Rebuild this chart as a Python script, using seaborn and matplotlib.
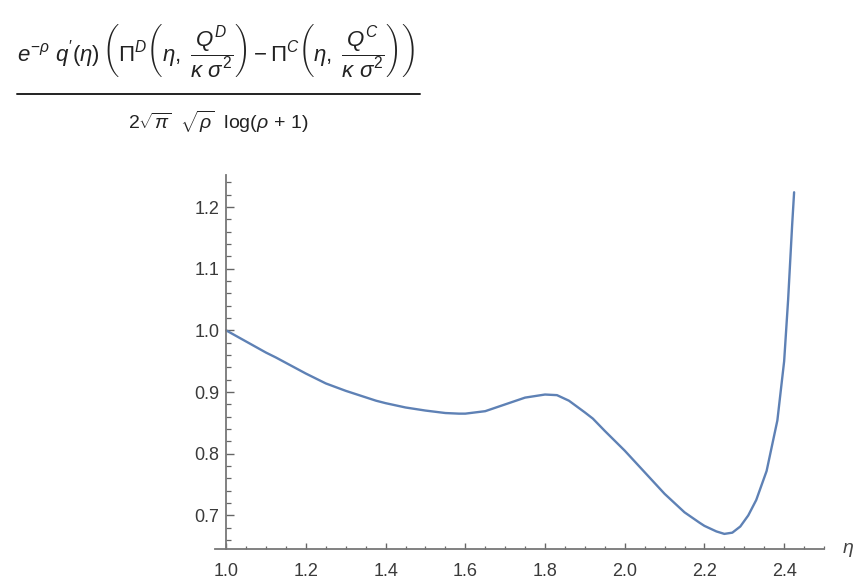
import matplotlib
matplotlib.use("Agg")
import matplotlib.pyplot as plt
from matplotlib.lines import Line2D
from matplotlib.ticker import MultipleLocator, FormatStrFormatter
import seaborn as sns
import pandas as pd

# Sampled curve: eta vs. normalized payoff difference
eta = [1.00, 1.05, 1.10, 1.125, 1.20, 1.25, 1.30, 1.376, 1.40, 1.45, 1.50,
       1.55, 1.584, 1.60, 1.65, 1.70, 1.75, 1.80, 1.83, 1.86, 1.90, 1.92,
       1.95, 2.00, 2.05, 2.10, 2.15, 2.188, 2.20, 2.23, 2.25, 2.27, 2.29,
       2.31, 2.33, 2.356, 2.383, 2.40, 2.41, 2.42, 2.425]
value = [1.000, 0.982, 0.964, 0.956, 0.930, 0.914, 0.902, 0.886, 0.882, 0.875, 0.870,
         0.866, 0.865, 0.865, 0.869, 0.880, 0.891, 0.896, 0.895, 0.886, 0.867, 0.857,
         0.837, 0.805, 0.770, 0.735, 0.705, 0.688, 0.683, 0.674, 0.670, 0.672, 0.682,
         0.700, 0.725, 0.772, 0.854, 0.950, 1.050, 1.170, 1.224]

x_ticks = [1.0, 1.2, 1.4, 1.6, 1.8, 2.0, 2.2, 2.4]
y_ticks = [0.7, 0.8, 0.9, 1.0, 1.1, 1.2]

df = pd.DataFrame({"eta": eta, "value": value})

sns.set_style("white")
plt.rcParams["font.family"] = ["Liberation Sans", "DejaVu Sans"]
plt.rcParams["mathtext.fontset"] = "custom"
plt.rcParams["mathtext.rm"] = "Liberation Sans"
plt.rcParams["mathtext.it"] = "Liberation Sans:italic"
plt.rcParams["mathtext.bf"] = "Liberation Sans:bold"

W, H = 855, 587
fig = plt.figure(figsize=(W / 100, H / 100), dpi=100)
ax = fig.add_axes([215 / W, 1 - 549 / H, (824 - 215) / W, (549 - 175) / H])

sns.lineplot(data=df, x="eta", y="value", ax=ax, color="#5e81b5",
             linewidth=1.7, sort=False, estimator=None)

ax.set_xlim(0.972, 2.5)
ax.set_ylim(0.6455, 1.252)
ax.set_xlabel("")
ax.set_ylabel("")

axis_col = "#777777"
for side in ("top", "right"):
    ax.spines[side].set_visible(False)
ax.spines["left"].set_position(("data", 1.0))
for side in ("left", "bottom"):
    ax.spines[side].set_color(axis_col)
    ax.spines[side].set_linewidth(1.3)

ax.set_xticks(x_ticks)
ax.set_yticks(y_ticks)
ax.xaxis.set_minor_locator(MultipleLocator(0.05))
ax.yaxis.set_minor_locator(MultipleLocator(0.02))
ax.xaxis.set_major_formatter(FormatStrFormatter("%.1f"))
ax.yaxis.set_major_formatter(FormatStrFormatter("%.1f"))

ax.tick_params(which="both", bottom=True, left=True, top=False, right=False)
ax.tick_params(axis="x", which="major", direction="in", length=4.5, width=1.0,
               color="#666666", labelsize=13, labelcolor="#3a3a3a", pad=10)
ax.tick_params(axis="x", which="minor", direction="in", length=2.5, width=0.9,
               color="#666666")
ax.tick_params(axis="y", which="major", direction="in", length=5.5, width=1.0,
               color="#666666", labelsize=13, labelcolor="#3a3a3a", pad=5)
ax.tick_params(axis="y", which="minor", direction="in", length=3.5, width=0.9,
               color="#666666")

# axis label placed at the end of the horizontal axis
fig.text(848 / W, 1 - 550 / H, r"$\eta$", fontsize=14, color="#444444",
         ha="center", va="center")

# expression plotted, written as a fraction above the axes
numerator = (r"$e^{-\rho}\ q'(\eta)\,\left(\Pi^{D}\left(\eta,\ \dfrac{Q^{D}}{\kappa\ \sigma^{2}}\right)"
             r"-\Pi^{C}\left(\eta,\ \dfrac{Q^{C}}{\kappa\ \sigma^{2}}\right)\right)$")
denominator = r"$2\sqrt{\pi}\ \ \sqrt{\rho}\ \ \mathrm{log}(\rho\,+\,1)$"
fig.text(17 / W, 1 - 50 / H, numerator, fontsize=16, color="#222222",
         ha="left", va="center")
fig.add_artist(Line2D([17 / W, 420 / W], [1 - 94 / H, 1 - 94 / H],
                      color="#222222", linewidth=1.4))
fig.text(218 / W, 1 - 122 / H, denominator, fontsize=14, color="#222222",
         ha="center", va="center")

fig.savefig("out.png", dpi=100)
